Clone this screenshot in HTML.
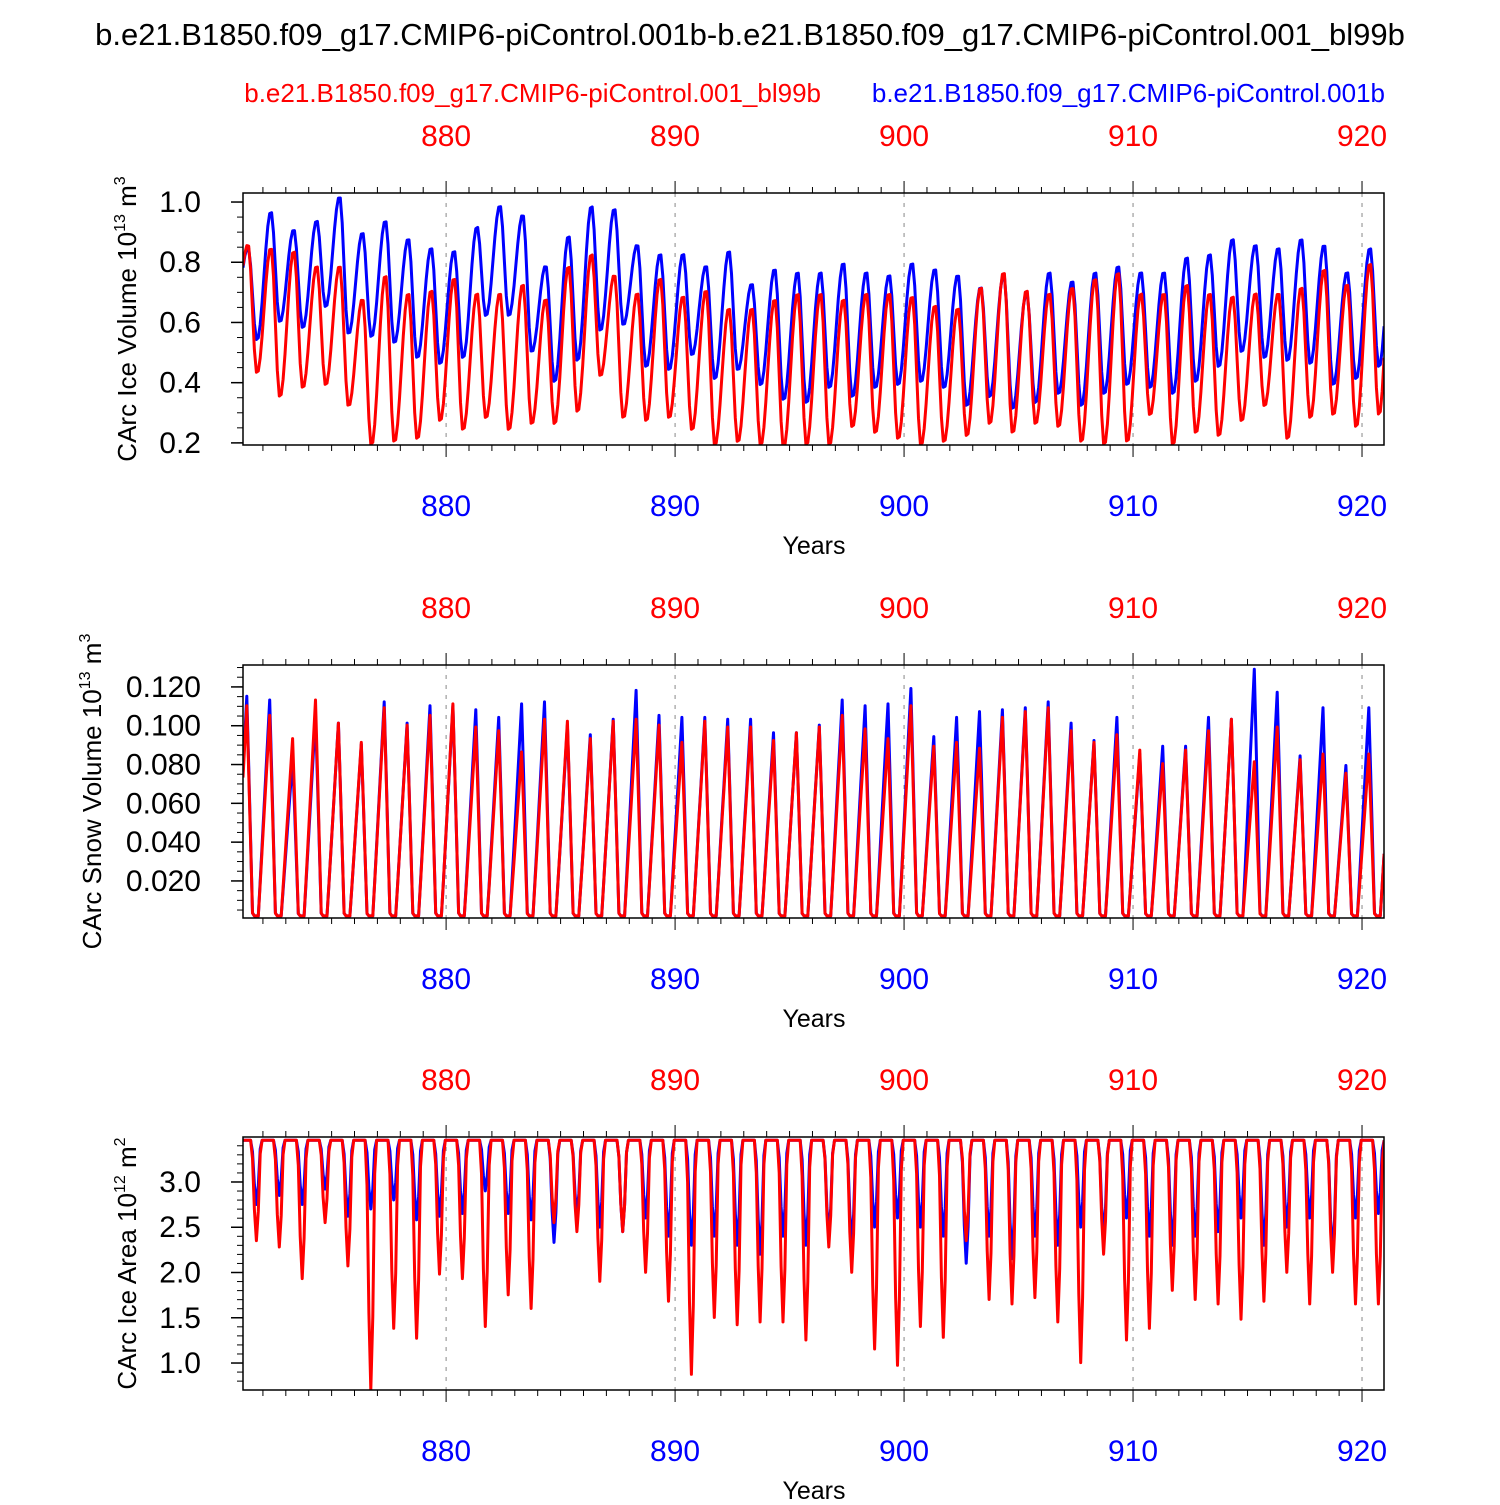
<!DOCTYPE html>
<html><head><meta charset="utf-8"><style>
body{margin:0;background:#fff}
text{font-family:"Liberation Sans",sans-serif}
</style></head><body>
<svg id="svg" width="1500" height="1500" viewBox="0 0 1500 1500" xmlns="http://www.w3.org/2000/svg">
<text x="750" y="45" text-anchor="middle" font-size="31">b.e21.B1850.f09_g17.CMIP6-piControl.001b-b.e21.B1850.f09_g17.CMIP6-piControl.001_bl99b</text>
<text x="821" y="102" text-anchor="end" font-size="26" fill="#ff0000">b.e21.B1850.f09_g17.CMIP6-piControl.001_bl99b</text>
<text x="1385" y="102" text-anchor="end" font-size="26" fill="#0000ff">b.e21.B1850.f09_g17.CMIP6-piControl.001b</text>
</svg>
<script>
// ---- data (per-year annual extremes, years 871..920) ----
const years = Array.from({length:50},(_,i)=>871+i);
const xTicks = [880,890,900,910,920];
// Panel 1: ice volume (1e13 m3)
const iceVolBlueMax = [0.85,0.97,0.91,0.94,1.02,0.90,0.94,0.88,0.85,0.84,0.92,0.99,0.96,0.79,0.89,0.99,0.98,0.86,0.83,0.83,0.79,0.84,0.73,0.78,0.77,0.77,0.80,0.77,0.76,0.80,0.78,0.76,0.72,0.76,0.70,0.77,0.74,0.77,0.79,0.77,0.77,0.82,0.83,0.88,0.86,0.85,0.88,0.86,0.77,0.85];
const iceVolBlueMin = [0.54,0.60,0.58,0.65,0.56,0.55,0.53,0.48,0.46,0.48,0.62,0.62,0.50,0.40,0.47,0.57,0.59,0.45,0.44,0.49,0.41,0.44,0.39,0.34,0.33,0.38,0.35,0.38,0.39,0.40,0.38,0.32,0.35,0.31,0.33,0.36,0.32,0.36,0.39,0.38,0.36,0.40,0.45,0.50,0.48,0.47,0.46,0.39,0.41,0.45];
const iceVolRedMax = [0.86,0.85,0.84,0.79,0.79,0.68,0.76,0.70,0.71,0.75,0.70,0.70,0.73,0.68,0.79,0.83,0.76,0.70,0.75,0.69,0.71,0.65,0.65,0.68,0.70,0.70,0.68,0.70,0.70,0.69,0.66,0.65,0.72,0.77,0.71,0.70,0.72,0.75,0.77,0.70,0.70,0.73,0.70,0.69,0.70,0.70,0.72,0.78,0.73,0.80];
const iceVolRedMin = [0.43,0.35,0.38,0.39,0.32,0.19,0.20,0.21,0.27,0.24,0.28,0.24,0.26,0.26,0.30,0.42,0.28,0.27,0.28,0.24,0.19,0.20,0.19,0.18,0.19,0.19,0.25,0.23,0.21,0.19,0.20,0.22,0.26,0.23,0.26,0.25,0.20,0.19,0.20,0.29,0.19,0.23,0.22,0.27,0.32,0.21,0.28,0.29,0.25,0.29];
// Panel 2: snow volume peaks
const snowBlueMax = [0.116,0.114,0.084,0.106,0.102,0.091,0.113,0.102,0.111,0.111,0.109,0.105,0.112,0.113,0.101,0.096,0.104,0.119,0.106,0.105,0.105,0.104,0.104,0.097,0.097,0.101,0.114,0.111,0.112,0.120,0.095,0.105,0.108,0.109,0.110,0.113,0.102,0.093,0.105,0.086,0.090,0.090,0.105,0.104,0.130,0.118,0.085,0.110,0.080,0.110];
const snowRedMax = [0.111,0.106,0.094,0.114,0.102,0.092,0.110,0.101,0.106,0.112,0.100,0.098,0.087,0.104,0.103,0.094,0.103,0.104,0.101,0.092,0.103,0.100,0.100,0.093,0.097,0.100,0.106,0.099,0.094,0.111,0.090,0.092,0.089,0.105,0.108,0.110,0.098,0.092,0.096,0.088,0.081,0.088,0.098,0.104,0.082,0.100,0.083,0.086,0.076,0.086];
// Panel 3: ice area minima (1e12 m2)
const areaBlueMin = [2.75,2.85,2.75,2.92,2.62,2.70,2.80,2.58,2.62,2.65,2.90,2.65,2.58,2.33,2.62,2.50,2.45,2.60,2.40,2.30,2.40,2.30,2.20,2.40,2.30,2.40,2.30,2.50,2.60,2.50,2.40,2.10,2.40,2.15,2.40,2.30,2.50,2.40,2.60,2.40,2.30,2.40,2.45,2.60,2.30,2.50,2.60,2.20,2.60,2.65];
const areaRedMin = [2.35,2.28,1.93,2.55,2.07,0.70,1.38,1.27,1.98,1.93,1.40,1.75,1.60,2.55,2.45,1.90,2.45,2.00,1.68,0.87,1.50,1.42,1.45,1.45,1.25,2.28,2.00,1.15,0.97,1.40,1.28,2.35,1.70,1.65,1.72,1.45,1.00,2.20,1.25,1.38,1.80,1.70,1.65,1.48,1.68,2.00,1.65,2.00,1.65,1.65];
const areaTop = 3.46;

const NS="http://www.w3.org/2000/svg";
const svg=document.getElementById('svg');
function mk(tag,attrs,parent){const e=document.createElementNS(NS,tag);for(const k in attrs)e.setAttribute(k,attrs[k]);(parent||svg).appendChild(e);return e;}
const X0=243,X1=1384,T0=871.13,T1=920.96;
const sx=t=>X0+(t-T0)/(T1-T0)*(X1-X0);
function interp(keys,t){
  if(t<=keys[0][0])return keys[0][1];
  for(let i=1;i<keys.length;i++){if(t<=keys[i][0]){const [a,va]=keys[i-1],[b,vb]=keys[i];let f=(t-a)/(b-a);if(keys[i][2])f=(1-Math.cos(Math.PI*f))/2;return va+(vb-va)*f;}}
  return keys[keys.length-1][1];
}
function volKeys(P,M){const k=[[870.75,0.62]];years.forEach((y,i)=>{k.push([y+0.35,P[i],1]);k.push([y+0.74,M[i],1]);});k.push([921.3,0.85,1]);return k;}
function snowKeys(P){const k=[[870.8,0.0]];years.forEach((y,i)=>{k.push([y+0.3,P[i]]);k.push([y+0.55,0.002]);k.push([y+0.8,0.002]);});k.push([921.3,0.1]);return k;}
function areaKeys(M){const k=[[870.9,areaTop]];years.forEach((y,i)=>{k.push([y+0.48,areaTop,1]);k.push([y+0.72,M[i],1]);k.push([y+0.93,areaTop,1]);});return k;}

const panels=[
 {name:'ice-volume',top:193,bot:445,ymin:0.193,ymax:1.03,major:[0.2,0.4,0.6,0.8,1.0],fmt:v=>v.toFixed(1),minor:0.05,
  title:['CArc Ice Volume 10','13',' m','3'],tx:136,
  series:[{n:'blue',c:'#0000ff',k:volKeys(iceVolBlueMax,iceVolBlueMin)},{n:'red',c:'#ff0000',k:volKeys(iceVolRedMax,iceVolRedMin)}]},
 {name:'snow-volume',top:665,bot:918,ymin:0.0009,ymax:0.1313,major:[0.02,0.04,0.06,0.08,0.10,0.12],fmt:v=>v.toFixed(3),minor:0.005,
  title:['CArc Snow Volume 10','13',' m','3'],tx:101,
  series:[{n:'blue',c:'#0000ff',k:snowKeys(snowBlueMax)},{n:'red',c:'#ff0000',k:snowKeys(snowRedMax)}]},
 {name:'ice-area',top:1137,bot:1390,ymin:0.702,ymax:3.497,major:[1.0,1.5,2.0,2.5,3.0],fmt:v=>v.toFixed(1),minor:0.1,
  title:['CArc Ice Area 10','12',' m','2'],tx:136,
  series:[{n:'blue',c:'#0000ff',k:areaKeys(areaBlueMin)},{n:'red',c:'#ff0000',k:areaKeys(areaRedMin)}]}
];
panels.forEach((p,pi)=>{
  const g=mk('g',{});
  
  
  const sy=v=>p.bot-(v-p.ymin)/(p.ymax-p.ymin)*(p.bot-p.top);
  const cp=mk('clipPath',{id:'c'+pi},g);
  mk('rect',{x:X0,y:p.top,width:X1-X0,height:p.bot-p.top},cp);
  xTicks.forEach(t=>{const l=mk('line',{x1:sx(t),x2:sx(t),y1:p.top,y2:p.bot,stroke:'#888','stroke-dasharray':'4,6','stroke-width':1},g);
    });
  p.series.forEach(s=>{
    let d='';for(let t=T0;t<=T1+0.05;t+=1/12){d+=(d?'L':'M')+sx(t).toFixed(1)+','+sy(interp(s.k,t)).toFixed(1);}
    const path=mk('path',{d:d,fill:'none',stroke:s.c,'stroke-width':3,'clip-path':'url(#c'+pi+')','stroke-linejoin':'round'},g);
    
    
  });
  mk('rect',{x:X0,y:p.top,width:X1-X0,height:p.bot-p.top,fill:'none',stroke:'#000','stroke-width':1.5},g);
  for(let v=Math.ceil(p.ymin/p.minor)*p.minor;v<=p.ymax;v+=p.minor){mk('line',{x1:X0-6,x2:X0,y1:sy(v),y2:sy(v),stroke:'#000'},g);}
  p.major.forEach(v=>{mk('line',{x1:X0-12,x2:X0,y1:sy(v),y2:sy(v),stroke:'#000','stroke-width':1.5},g);
    const t=mk('text',{x:X0-42,y:sy(v)+10,'text-anchor':'end','font-size':30},g);t.textContent=p.fmt(v);
    });
  for(let y=872;y<=920;y++){const maj=y%10===0;
    mk('line',{x1:sx(y),x2:sx(y),y1:p.top-(maj?12:6),y2:p.top,stroke:'#000'},g);
    mk('line',{x1:sx(y),x2:sx(y),y1:p.bot,y2:p.bot+(maj?12:6),stroke:'#000'},g);}
  xTicks.forEach(v=>{
    const a=mk('text',{x:sx(v),y:p.top-47,'text-anchor':'middle','font-size':30,fill:'#ff0000'},g);a.textContent=v;
    
    const b=mk('text',{x:sx(v),y:p.bot+71,'text-anchor':'middle','font-size':30,fill:'#0000ff'},g);b.textContent=v;
    });
  const xt=mk('text',{x:814,y:p.bot+109,'text-anchor':'middle','font-size':25},g);xt.textContent='Years';
  
  const cy=(p.top+p.bot)/2;
  const yt=mk('text',{x:0,y:0,'text-anchor':'middle','font-size':26,transform:`translate(${p.tx},${cy}) rotate(-90)`},g);
  
  p.title.forEach((s,i)=>{const ts=document.createElementNS(NS,'tspan');ts.textContent=s;
    if(i%2===1){ts.setAttribute('font-size','16');ts.setAttribute('dy','-11');}else if(i>0){ts.setAttribute('dy','11');}
    yt.appendChild(ts);});
});
</script>
</body></html>
